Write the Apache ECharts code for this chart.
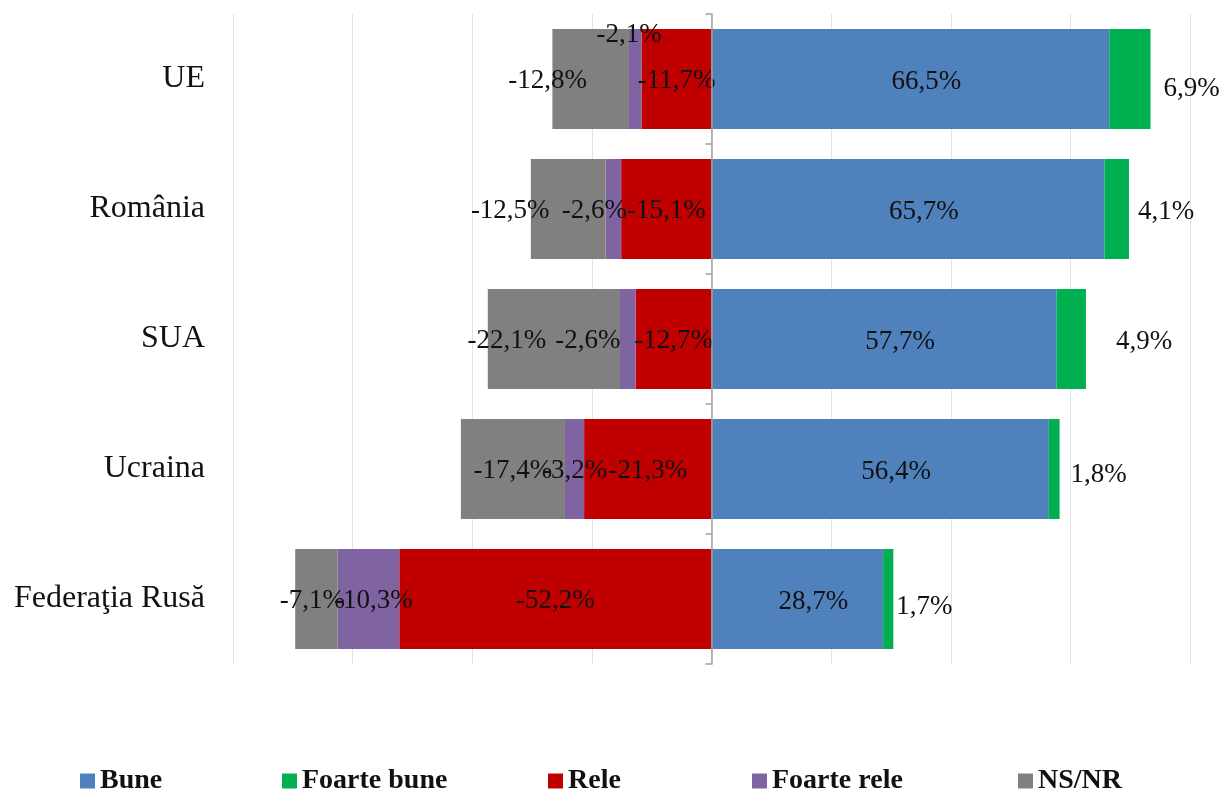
<!DOCTYPE html>
<html><head><meta charset="utf-8">
<script src="https://cdn.jsdelivr.net/npm/echarts@6/dist/echarts.min.js"></script>
<style>html,body{margin:0;padding:0;background:#fff}#c{width:1223px;height:789px}</style>
</head><body><div id="c"></div>
<script>
// ---- data ----
const categories = ['UE', 'România', 'SUA', 'Ucraina', 'Federaţia Rusă'];
const seriesNames = ['Bune', 'Foarte bune', 'Rele', 'Foarte rele', 'NS/NR'];
const bune       = [66.5, 65.7, 57.7, 56.4, 28.7];
const foarteBune = [6.9, 4.1, 4.9, 1.8, 1.7];
const rele       = [-11.7, -15.1, -12.7, -21.3, -52.2];
const foarteRele = [-2.1, -2.6, -2.6, -3.2, -10.3];
const nsnr       = [-12.8, -12.5, -22.1, -17.4, -7.1];
const axisMin = -80, axisMax = 80, axisStep = 20;

// ---- style (label nudges, colours, legend placement) ----
const colors = ['#4F81BD', '#00B050', '#C00000', '#8064A2', '#808080'];
const labelNudges = [
  [[16,3],[16,3],[16,3],[16,3],[16,3]],
  [[13,10],[9,3],[30,3],[11,6],[3,8]],
  [[0,2],[0,2],[0,2],[0,2],[0,2]],
  [[-6,-44],[-19,2],[-40,2],[0,2],[5,2]],
  [[-43,2],[-58,2],[-47,2],[0,2],[-4,2]]
];
const labelPos = ['inside', 'right', 'inside', 'inside', 'inside'];
const legendLefts = [80, 282, 548, 752, 1018];
const values = [bune, foarteBune, rele, foarteRele, nsnr];

const fmt = v => v.toFixed(1).replace('.', ',') + '%';
const FONT = '"Liberation Serif", "Times New Roman", serif';

const series = seriesNames.map((name, si) => ({
  name, type: 'bar', stack: 'all', yAxisIndex: 0,
  barCategoryGap: '23%',
  itemStyle: { color: colors[si] },
  label: {
    show: true, position: labelPos[si], distance: 0,
    fontFamily: FONT, fontSize: 27, color: '#111',
    formatter: p => fmt(p.value)
  },
  data: values[si].map((v, i) => ({
    value: v,
    label: { offset: labelNudges[si][i] }
  }))
}));

const legends = seriesNames.map((name, i) => ({
  data: [name], left: legendLefts[i], top: 767, padding: 0, icon: 'rect',
  itemWidth: 15, itemHeight: 15,
  textStyle: { fontFamily: FONT, fontSize: 28, fontWeight: 'bold', color: '#111' }
}));

const chart = echarts.init(document.getElementById('c'), null, { renderer: 'canvas' });
chart.setOption({
  animation: false,
  backgroundColor: '#fff',
  color: colors,
  grid: { left: 233, right: 33, top: 14, bottom: 125, containLabel: false },
  xAxis: {
    type: 'value', min: axisMin, max: axisMax, interval: axisStep,
    axisLabel: { show: false }, axisLine: { show: false }, axisTick: { show: false },
    splitLine: { show: true, lineStyle: { color: '#DCE4EF', width: 1 } }
  },
  yAxis: [
    {
      type: 'category', data: categories, inverse: true, position: 'left',
      axisLine: { show: false, onZero: false }, axisTick: { show: false },
      axisLabel: { margin: 28, fontFamily: FONT, fontSize: 32, color: '#111' }
    },
    {
      type: 'category', data: categories, inverse: true, position: 'left', z: 5,
      axisLine: { show: true, onZero: true, onZeroAxisIndex: 0, lineStyle: { color: '#A0A0A0', width: 1.5 } },
      axisTick: { show: true, length: 6, lineStyle: { color: '#A0A0A0', width: 1.5 } },
      axisLabel: { show: false }, splitLine: { show: false }
    }
  ],
  legend: legends,
  series
});
</script>
</body></html>
